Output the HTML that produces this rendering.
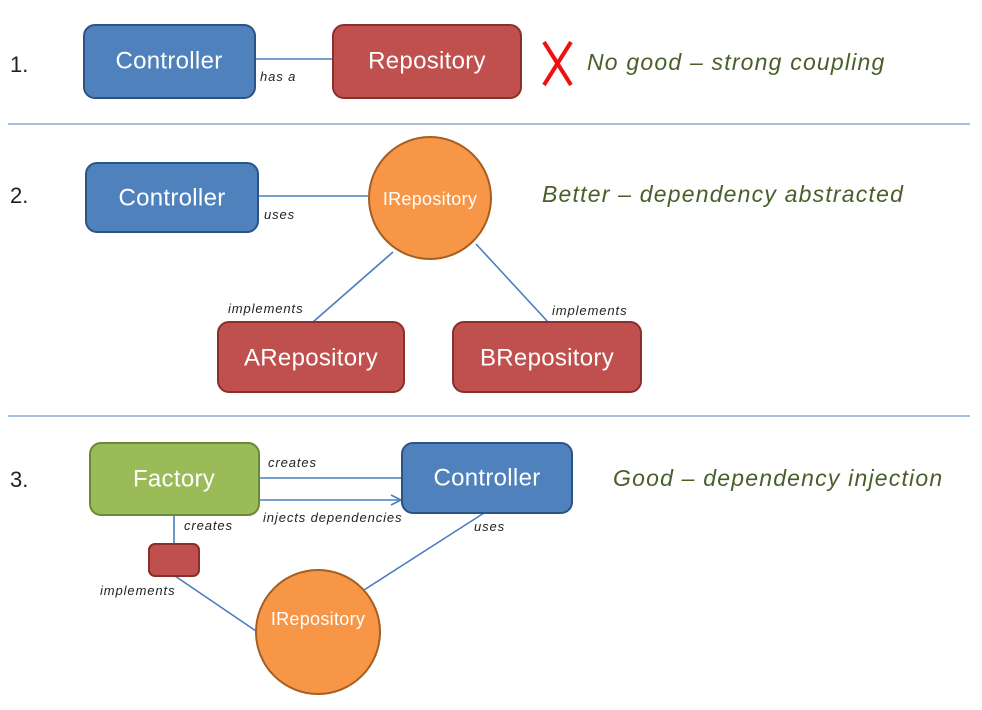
<!DOCTYPE html>
<html><head><meta charset="utf-8"><style>
html,body{margin:0;padding:0;background:#fff;width:982px;height:710px;overflow:hidden}
svg{display:block}
text{font-family:"Liberation Sans",sans-serif}
.num{font-size:22px;fill:#222}
.box{font-size:24px;fill:#fff;text-anchor:middle;dominant-baseline:central;letter-spacing:0.3px}
.lbl{font-size:13px;font-style:italic;fill:#222;letter-spacing:0.9px}
.note{font-size:23px;font-style:italic;fill:#4a5e2a;letter-spacing:1.2px}
.ln{stroke:#4a7ec0;stroke-width:1.6;fill:none}
</style></head><body>
<svg width="982" height="710" viewBox="0 0 982 710">
<defs><marker id="a" markerWidth="12" markerHeight="12" refX="11" refY="6" orient="auto" markerUnits="userSpaceOnUse"><path d="M1,1 L11,6 L1,11" fill="none" stroke="#4a7ec0" stroke-width="1.6"/></marker></defs>
<line x1="8" y1="124" x2="970" y2="124" stroke="#8aaad4" stroke-width="1.5"/>
<line x1="8" y1="416" x2="970" y2="416" stroke="#8aaad4" stroke-width="1.5"/>

<text class="num" x="10" y="72">1.</text>
<line class="ln" x1="255" y1="59" x2="333" y2="59"/>
<rect x="84" y="25" width="171" height="73" rx="11" fill="#4f81bd" stroke="#2c5385" stroke-width="2"/>
<text class="box" x="169" y="61">Controller</text>
<rect x="333" y="25" width="188" height="73" rx="11" fill="#c0504d" stroke="#8a2f2d" stroke-width="2"/>
<text class="box" x="427" y="61">Repository</text>
<text class="lbl" x="260" y="81">has a</text>
<path d="M544,42 L571,85 M571,42 L544,85" stroke="#f01010" stroke-width="4"/>
<text class="note" x="587" y="70">No good – strong coupling</text>

<text class="num" x="10" y="203">2.</text>
<line class="ln" x1="258" y1="196" x2="368" y2="196"/>
<line class="ln" x1="393" y1="252" x2="313" y2="322"/>
<line class="ln" x1="476" y1="244" x2="548" y2="322"/>
<rect x="86" y="163" width="172" height="69" rx="11" fill="#4f81bd" stroke="#2c5385" stroke-width="2"/>
<text class="box" x="172" y="198">Controller</text>
<circle cx="430" cy="198" r="61" fill="#f79646" stroke="#a55f22" stroke-width="2"/>
<text class="box" x="430" y="199" style="font-size:18px">IRepository</text>
<text class="lbl" x="264" y="219">uses</text>
<text class="note" x="542" y="202">Better – dependency abstracted</text>
<text class="lbl" x="228" y="313">implements</text>
<text class="lbl" x="552" y="315">implements</text>
<rect x="218" y="322" width="186" height="70" rx="11" fill="#c0504d" stroke="#8a2f2d" stroke-width="2"/>
<text class="box" x="311" y="358">ARepository</text>
<rect x="453" y="322" width="188" height="70" rx="11" fill="#c0504d" stroke="#8a2f2d" stroke-width="2"/>
<text class="box" x="547" y="358">BRepository</text>

<text class="num" x="10" y="487">3.</text>
<line class="ln" x1="259" y1="478" x2="402" y2="478"/>
<line class="ln" x1="259" y1="500" x2="401" y2="500" marker-end="url(#a)"/>
<line class="ln" x1="174" y1="515" x2="174" y2="544"/>
<line class="ln" x1="175" y1="576" x2="256" y2="631"/>
<line class="ln" x1="364" y1="590" x2="484" y2="513"/>
<rect x="90" y="443" width="169" height="72" rx="11" fill="#9bbb59" stroke="#6b8a35" stroke-width="2"/>
<text class="box" x="174" y="479">Factory</text>
<rect x="402" y="443" width="170" height="70" rx="11" fill="#4f81bd" stroke="#2c5385" stroke-width="2"/>
<text class="box" x="487" y="478">Controller</text>
<rect x="149" y="544" width="50" height="32" rx="6" fill="#c0504d" stroke="#8a2f2d" stroke-width="2"/>
<circle cx="318" cy="632" r="62" fill="#f79646" stroke="#a55f22" stroke-width="2"/>
<text class="box" x="318" y="619" style="font-size:18px">IRepository</text>
<text class="lbl" x="268" y="467">creates</text>
<text class="lbl" x="263" y="522">injects dependencies</text>
<text class="lbl" x="184" y="530">creates</text>
<text class="lbl" x="100" y="595">implements</text>
<text class="lbl" x="474" y="531">uses</text>
<text class="note" x="613" y="486">Good – dependency injection</text>
</svg>
</body></html>
